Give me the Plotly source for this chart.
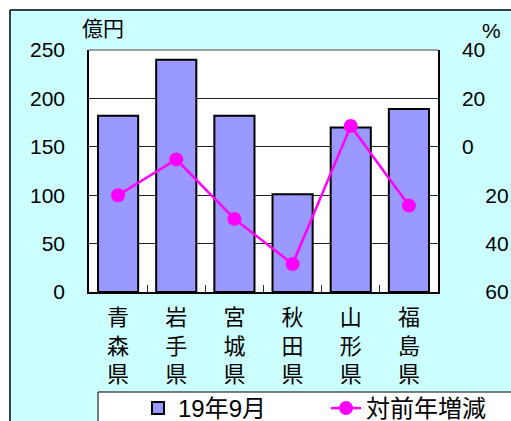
import plotly.graph_objects as go

categories = ["青<br>森<br>県", "岩<br>手<br>県", "宮<br>城<br>県", "秋<br>田<br>県", "山<br>形<br>県", "福<br>島<br>県"]
amount = [182, 240, 182, 101, 170, 189]          # 億円, 19年9月
change = [-20, -5.2, -29.8, -48.4, 8.6, -24.3]    # %, 対前年増減
left_ticks = [0, 50, 100, 150, 200, 250]
right_tickvals = [-60, -40, -20, 0, 20, 40]
right_ticktext = ["\u00a0\u00a0\u00a0\u00a060", "\u00a0\u00a0\u00a0\u00a040", "\u00a0\u00a0\u00a0\u00a020", "0", "20", "40"]

FONT = "Liberation Sans, Arial, Noto Sans CJK JP"
BG = "#CCFFFF"

fig = go.Figure()
fig.add_trace(go.Bar(
    x=categories, y=amount, name="19年9月",
    marker=dict(color="#9999FF", line=dict(color="black", width=2)),
    yaxis="y", legend="legend",
))
fig.add_trace(go.Scatter(
    x=categories, y=change, name="対前年増減", mode="lines+markers",
    line=dict(color="#FF00FF", width=2.5),
    marker=dict(color="#FF00FF", size=14),
    yaxis="y2", legend="legend2",
))

W, H = 511, 421
L, R, T, B = 89, 73, 50, 129
pw, ph = W - L - R, H - T - B

def px2x(p):
    return (p - L) / pw

def py2y(p):
    return (H - B - p) / ph

shapes = [
    dict(type="rect", xref="paper", yref="paper", x0=px2x(-5), x1=px2x(10), y0=py2y(H + 5), y1=py2y(-5),
         fillcolor="white", line=dict(width=0), layer="below"),
    dict(type="rect", xref="paper", yref="paper", x0=px2x(-5), x1=px2x(W + 5), y0=py2y(10), y1=py2y(-5),
         fillcolor="white", line=dict(width=0), layer="below"),
    dict(type="line", xref="paper", yref="paper", x0=px2x(10), x1=px2x(10), y0=py2y(10), y1=py2y(H + 5),
         line=dict(color="black", width=1.5)),
    dict(type="line", xref="paper", yref="paper", x0=px2x(10), x1=px2x(W + 5), y0=py2y(10), y1=py2y(10),
         line=dict(color="black", width=1.5)),
    dict(type="line", xref="paper", yref="paper", x0=0, x1=1, y0=1, y1=1,
         line=dict(color="#808080", width=1.5)),
    # legend box
    dict(type="rect", xref="paper", yref="paper", x0=px2x(98), x1=px2x(W + 10), y0=py2y(H + 10), y1=py2y(392),
         fillcolor="white", line=dict(color="black", width=1)),
]

leg_common = dict(orientation="h", yanchor="top", xanchor="left", bgcolor="rgba(0,0,0,0)",
                  borderwidth=0, font=dict(size=24))

fig.update_layout(
    width=W, height=H,
    margin=dict(l=L, r=R, t=T, b=B, pad=0, autoexpand=False),
    paper_bgcolor=BG, plot_bgcolor="white",
    font=dict(family=FONT, size=21, color="black"),
    bargap=0.31,
    showlegend=True,
    shapes=shapes,
    xaxis=dict(
        showline=True, linecolor="black", linewidth=1.5, automargin=False,
        ticks="inside", tickson="boundaries", ticklen=7, tickcolor="#333333",
        showgrid=False, tickfont=dict(size=22),
        ticklabelstandoff=5,
    ),
    yaxis=dict(
        range=[0, 250], tickvals=left_ticks, showline=True, linecolor="black", linewidth=1.5,
        showgrid=True, gridcolor="#222222", gridwidth=1, zeroline=False, automargin=False,
        ticks="", ticklabelstandoff=18, tickfont=dict(size=21),
    ),
    yaxis2=dict(
        range=[-60, 40], tickvals=right_tickvals, ticktext=right_ticktext,
        overlaying="y", side="right", showline=True, linecolor="black", linewidth=1.5,
        showgrid=False, zeroline=False, ticks="", ticklabelstandoff=18, automargin=False,
        tickfont=dict(size=21),
    ),
    legend=dict(x=px2x(138), y=py2y(386), **leg_common),
    legend2=dict(x=px2x(326), y=py2y(386), **leg_common),
    annotations=[
        dict(text="億円", xref="paper", yref="paper", x=px2x(103), y=py2y(29),
             showarrow=False, xanchor="center", yanchor="middle", font=dict(size=21)),
        dict(text="%", xref="paper", yref="paper", x=px2x(491), y=py2y(30),
             showarrow=False, xanchor="center", yanchor="middle", font=dict(size=21)),
    ],
)

fig.write_html("out.html", config={"displayModeBar": False},
               post_script="document.body.style.margin='0';document.body.style.overflow='hidden';")
